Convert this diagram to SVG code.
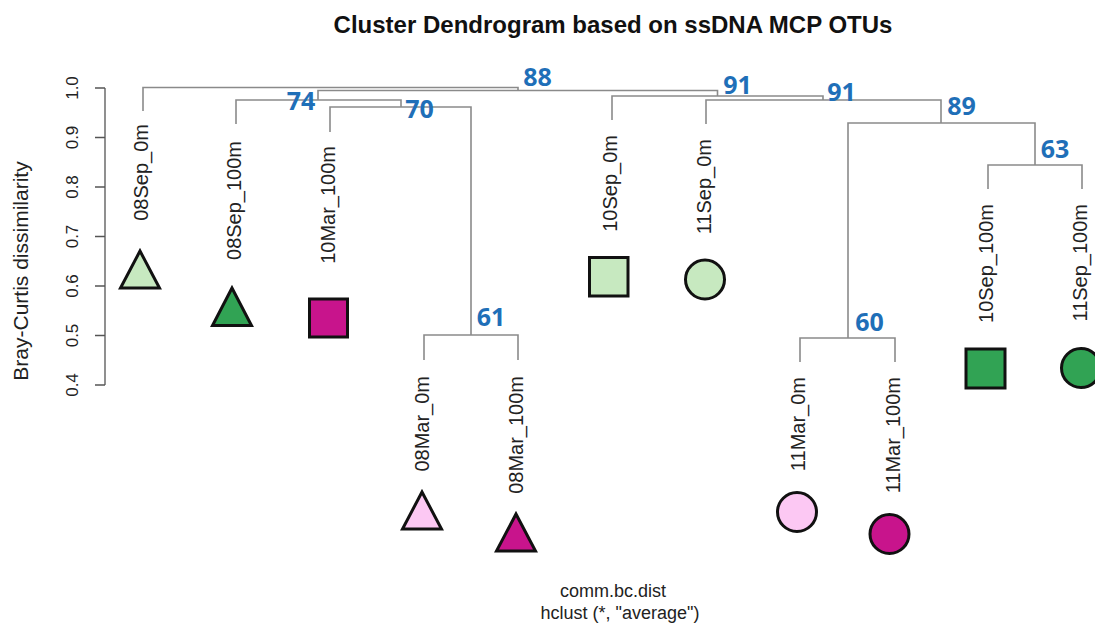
<svg xmlns="http://www.w3.org/2000/svg" width="1095" height="626" viewBox="0 0 1095 626">
<style>
.title{font-family:"Liberation Sans",Arial,sans-serif;font-weight:bold;font-size:24px;fill:#111;text-anchor:middle}
.axt{font-family:"Liberation Sans",Arial,sans-serif;font-size:17px;fill:#222;text-anchor:middle}
.ylab{font-family:"Liberation Sans",Arial,sans-serif;font-size:21px;fill:#222;text-anchor:middle}
.leaf{font-family:"Liberation Sans",Arial,sans-serif;font-size:20px;fill:#222;text-anchor:end}
.sub{font-family:"Liberation Sans",Arial,sans-serif;font-size:18px;fill:#222;text-anchor:middle}
.bs{font-family:"Open Sans","Liberation Sans",sans-serif;font-weight:bold;font-size:25px;fill:#1f6fb8;text-anchor:middle}
.br{fill:none;stroke:#8a8a8a;stroke-width:1.6}
.ax{fill:none;stroke:#555;stroke-width:1.3}
.sh{stroke:#111;stroke-width:3;stroke-linejoin:miter}
.lg{fill:#c7e9c0}.dg{fill:#31a354}.mg{fill:#c8148c}.lp{fill:#fcc8f3}
</style>
<rect width="1095" height="626" fill="#ffffff"/>
<text class="title" x="613" y="33">Cluster Dendrogram based on ssDNA MCP OTUs</text>
<g id="y-axis">
<path class="ax" d="M105,88V385M95,88H105M95,137.5H105M95,187H105M95,236.5H105M95,286H105M95,335.5H105M95,385H105"/>
<text class="axt" transform="translate(78,88) rotate(-90)">1.0</text>
<text class="axt" transform="translate(78,137.5) rotate(-90)">0.9</text>
<text class="axt" transform="translate(78,187) rotate(-90)">0.8</text>
<text class="axt" transform="translate(78,236.5) rotate(-90)">0.7</text>
<text class="axt" transform="translate(78,286) rotate(-90)">0.6</text>
<text class="axt" transform="translate(78,335.5) rotate(-90)">0.5</text>
<text class="axt" transform="translate(78,385) rotate(-90)">0.4</text>
<text class="ylab" transform="translate(28,271) rotate(-90)">Bray-Curtis dissimilarity</text>
</g>
<g id="connectors">
<path class="br" d="M143,111V87.5H518V90.5"/>
<path class="br" d="M318,100V90.5H717.5V96"/>
<path class="br" d="M236,124V100H401V107"/>
<path class="br" d="M330,132V107H471V335"/>
<path class="br" d="M424,360V335H518V360"/>
<path class="br" d="M612,120V96H823V100"/>
<path class="br" d="M706,124V100H941V123"/>
<path class="br" d="M848,338V123H1035V165"/>
<path class="br" d="M988,189V165H1082V189"/>
<path class="br" d="M800,362V338H895V362"/>
</g>
<g id="support-labels">
<text class="bs" x="537.5" y="86">88</text>
<text class="bs" x="301" y="110">74</text>
<text class="bs" x="419.5" y="118">70</text>
<text class="bs" x="491" y="326">61</text>
<text class="bs" x="737.5" y="94">91</text>
<text class="bs" x="841.5" y="101">91</text>
<text class="bs" x="961.5" y="115">89</text>
<text class="bs" x="1055" y="158">63</text>
<text class="bs" x="869.5" y="331">60</text>
</g>
<g id="n-08Sep_0m">
<text class="leaf" transform="translate(148,124) rotate(-90)">08Sep_0m</text>
<polygon class="sh lg" points="140,251 120.5,288 159.5,288"/>
</g>
<g id="n-08Sep_100m">
<text class="leaf" transform="translate(241,141) rotate(-90)">08Sep_100m</text>
<polygon class="sh dg" points="232,288 212.5,325.5 251.5,325.5"/>
</g>
<g id="n-10Mar_100m">
<text class="leaf" transform="translate(335,146) rotate(-90)">10Mar_100m</text>
<rect class="sh mg" x="309.5" y="299" width="38" height="38"/>
</g>
<g id="n-08Mar_0m">
<text class="leaf" transform="translate(429,376) rotate(-90)">08Mar_0m</text>
<polygon class="sh lp" points="422,492 402.5,529 441.5,529"/>
</g>
<g id="n-08Mar_100m">
<text class="leaf" transform="translate(523,376) rotate(-90)">08Mar_100m</text>
<polygon class="sh mg" points="516,514 496.5,551 535.5,551"/>
</g>
<g id="n-10Sep_0m">
<text class="leaf" transform="translate(617,135) rotate(-90)">10Sep_0m</text>
<rect class="sh lg" x="589.5" y="257.5" width="38.5" height="38.5"/>
</g>
<g id="n-11Sep_0m">
<text class="leaf" transform="translate(711,139) rotate(-90)">11Sep_0m</text>
<circle class="sh lg" cx="705" cy="279.5" r="19.5"/>
</g>
<g id="n-11Mar_0m">
<text class="leaf" transform="translate(805,377) rotate(-90)">11Mar_0m</text>
<circle class="sh lp" cx="797" cy="512" r="19.5"/>
</g>
<g id="n-11Mar_100m">
<text class="leaf" transform="translate(900,377) rotate(-90)">11Mar_100m</text>
<circle class="sh mg" cx="889.5" cy="534" r="19.5"/>
</g>
<g id="n-10Sep_100m">
<text class="leaf" transform="translate(993,204) rotate(-90)">10Sep_100m</text>
<rect class="sh dg" x="966" y="349" width="39" height="39"/>
</g>
<g id="n-11Sep_100m">
<text class="leaf" transform="translate(1087,204) rotate(-90)">11Sep_100m</text>
<circle class="sh dg" cx="1081" cy="368" r="19.5"/>
</g>
<text class="sub" x="613" y="597">comm.bc.dist</text>
<text class="sub" x="620" y="619">hclust (*, &quot;average&quot;)</text>
</svg>
